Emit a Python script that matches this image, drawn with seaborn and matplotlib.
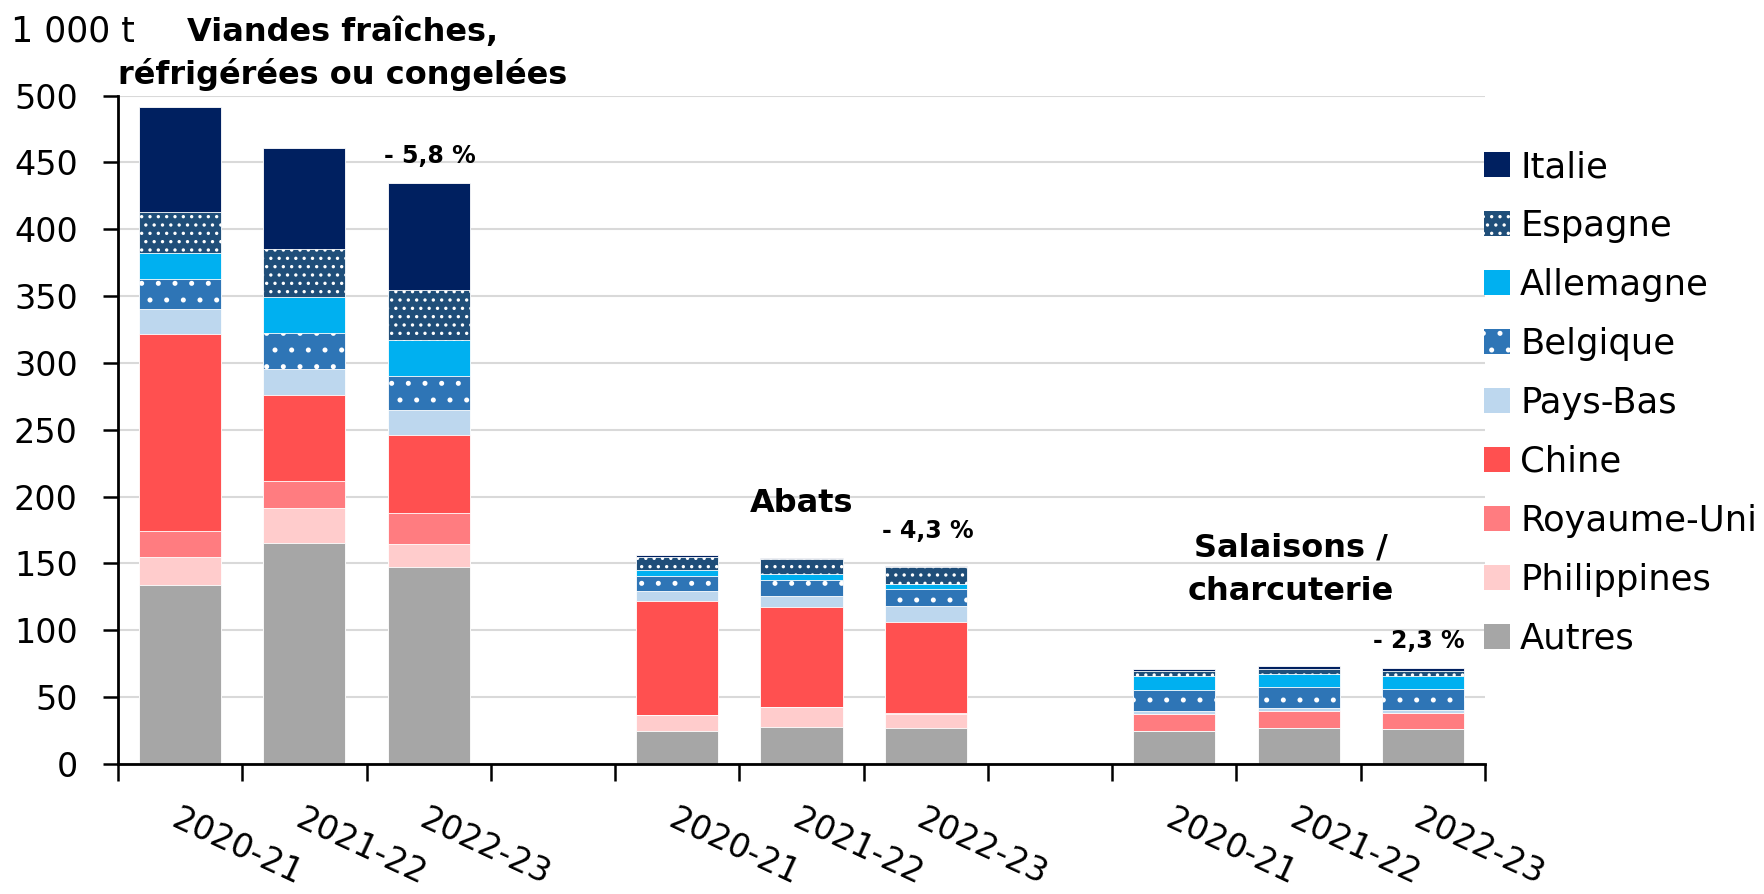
import numpy as np
import pandas as pd
import seaborn as sns
import matplotlib.pyplot as plt
from matplotlib.patches import Patch

sns.set_theme(style="white")
plt.rcParams['font.family'] = ['DejaVu Sans']
plt.rcParams['text.color'] = 'black'
plt.rcParams['xtick.color'] = 'black'
plt.rcParams['ytick.color'] = 'black'
plt.rcParams['hatch.color'] = 'white'
plt.rcParams['hatch.linewidth'] = 1.2

# donnees (milliers de tonnes)
annees = ["2020-21", "2021-22", "2022-23"]
groupes = ["Viandes fraîches,\nréfrigérées ou congelées", "Abats", "Salaisons /\ncharcuterie"]
evolutions = ["- 5,8 %", "- 4,3 %", "- 2,3 %"]

# pays, de bas en haut de la pile
pays = ["Autres", "Philippines", "Royaume-Uni", "Chine", "Pays-Bas",
        "Belgique", "Allemagne", "Espagne", "Italie"]

autres = [134, 165, 147, 24.5, 27.5, 26.8, 24.5, 27, 26.3]
philippines = [21, 26.7, 17.7, 11.8, 15.3, 10.3, 0, 0, 0]
royaume_uni = [19.3, 19.7, 23, 0, 0, 0.8, 13, 12.8, 11.5]
chine = [147, 65, 58.7, 85.8, 74.8, 68.5, 0, 0, 0]
pays_bas = [19, 19.3, 18.3, 7, 7.8, 12, 2.5, 2.3, 2.3]
belgique = [22.3, 26.7, 25.3, 11.3, 12.3, 12.3, 15.5, 15.3, 15.8]
allemagne = [20, 27, 27, 5, 4.8, 3.8, 10.3, 10, 10]
espagne = [30, 35.7, 37.3, 9.8, 11, 12.5, 3.5, 3.5, 3.8]
italie = [79, 76, 80.3, 0.8, 0.8, 0.8, 2, 2.3, 2]

couleurs = {"Italie": "#002060", "Espagne": "#1F4E79", "Allemagne": "#00B0F0",
            "Belgique": "#2E75B6", "Pays-Bas": "#BDD7EE", "Chine": "#FF5050",
            "Royaume-Uni": "#FF7C80", "Philippines": "#FFCCCC", "Autres": "#A6A6A6"}
hachures = {"Espagne": "..", "Belgique": "."}

tab = pd.DataFrame(dict(zip(pays, [autres, philippines, royaume_uni, chine, pays_bas,
                                   belgique, allemagne, espagne, italie])))
# une case vide entre chaque groupe
tab["pos"] = [g * 4 + k for g in range(len(groupes)) for k in range(len(annees))]
cumul = tab[pays].cumsum(axis=1)

fig = plt.figure(figsize=(17.64, 8.94), dpi=100)
ax = fig.add_axes([118 / 1764, 1 - 764 / 894, (1485 - 118) / 1764, (764 - 95.6) / 894])

# barres empilees : on dessine les cumuls du plus haut au plus bas
for p in reversed(pays):
    sns.barplot(x=tab["pos"], y=cumul[p], native_scale=True, width=0.66,
                color=couleurs[p], saturation=1, errorbar=None,
                hatch=hachures.get(p, None), edgecolor="white", linewidth=0.6,
                ax=ax, zorder=2)

ax.set_xlim(-0.5, 10.5)
ax.set_ylim(0, 500)
ax.set_xlabel("")
ax.set_ylabel("")
ax.set_yticks(np.arange(0, 501, 50))
ax.yaxis.grid(True, color="#d9d9d9", linewidth=1.5, zorder=0)
ax.set_axisbelow(True)
for s in ["top", "right"]:
    ax.spines[s].set_visible(False)
for s in ["left", "bottom"]:
    ax.spines[s].set_color("black")
    ax.spines[s].set_linewidth(2)

ax.set_xticks(np.arange(-0.5, 11, 1))
ax.set_xticklabels([])
ax.set_xticks(tab["pos"], annees * len(groupes), minor=True)
ax.tick_params(axis="x", which="major", direction="out", length=12, width=1.8, color="black", bottom=True)
ax.tick_params(axis="x", which="minor", length=0, pad=28, labelsize=24, bottom=True)
ax.tick_params(axis="y", direction="out", length=11, width=1.8, color="black", pad=18, labelsize=24, left=True)
for lab in ax.get_xticklabels(minor=True):
    lab.set_rotation(-25)
    lab.set_rotation_mode("anchor")
    lab.set_ha("left")
    lab.set_va("top")

fig.text(11 / 1764, 1 - 42 / 894, "1 000 t", fontsize=25, va="baseline", ha="left")

# titres de groupe, une ligne par texte
titres_pos = [(1.31, 540.6), (5.0, 188.6), (8.94, 155)]
for (x, y), t in zip(titres_pos, groupes):
    for i, ligne in enumerate(t.split("\n")):
        ax.text(x, y - i * 32, ligne, fontsize=23, fontweight="bold",
                ha="center", va="baseline", clip_on=False)

evol_pos = [(2.01, 455), (6.02, 174), (9.97, 92)]
for (x, y), t in zip(evol_pos, evolutions):
    ax.text(x, y, t, fontsize=17, fontweight="bold", ha="center", va="center")

handles = [Patch(facecolor=couleurs[p], hatch=hachures.get(p, None), edgecolor="white",
                 linewidth=0, label=p) for p in reversed(pays)]
fig.legend(handles=handles, loc="upper left", bbox_to_anchor=(1484 / 1764, 1 - 150 / 894),
           frameon=False, fontsize=25.5, handlelength=0.72, handleheight=0.72,
           handletextpad=0.3, labelspacing=0.705, borderpad=0, borderaxespad=0)

fig.savefig("out.png", dpi=100)
